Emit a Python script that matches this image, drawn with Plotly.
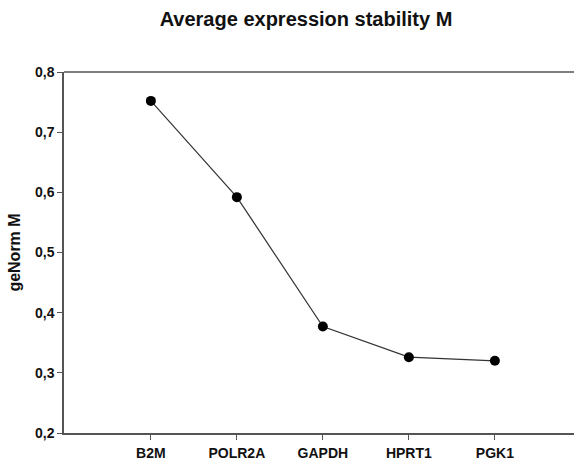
import plotly.graph_objects as go

genes = ["B2M", "POLR2A", "GAPDH", "HPRT1", "PGK1"]
m_values = [0.752, 0.592, 0.377, 0.326, 0.320]
y_ticks = [0.2, 0.3, 0.4, 0.5, 0.6, 0.7, 0.8]
y_ticklabels = ["0,2", "0,3", "0,4", "0,5", "0,6", "0,7", "0,8"]
title_text = "Average expression stability M"
y_title = "geNorm M"

FONT = "Liberation Sans, Arial, sans-serif"
W, H = 574, 463

fig = go.Figure()
fig.add_trace(go.Scatter(
    x=genes, y=m_values, mode="lines+markers",
    line=dict(color="#333333", width=1.2),
    marker=dict(color="black", size=10),
    showlegend=False,
))

fig.update_layout(
    width=W, height=H,
    margin=dict(l=64, r=0, t=72, b=30),
    plot_bgcolor="white", paper_bgcolor="white",
    font=dict(family=FONT, color="black"),
    title=dict(text="<b>" + title_text + "</b>", x=(306 - 64) / 510, xref="paper",
               xanchor="center", y=1 - 19 / H, yref="container", yanchor="middle",
               font=dict(size=20, family=FONT, color="#111111")),
)
fig.update_xaxes(
    type="category", range=[-1.01, 4.92],
    showline=True, linecolor="#555555", linewidth=1.5,
    ticks="outside", ticklen=5, tickcolor="#555555", tickwidth=1,
    showgrid=False, zeroline=False,
    tickfont=dict(size=14, family=FONT, color="#111111", weight="bold"),
    ticklabelstandoff=1,
)
fig.update_yaxes(
    range=[0.2, 0.8], tickvals=y_ticks, ticktext=y_ticklabels,
    showline=True, linecolor="#555555", linewidth=1.5,
    ticks="outside", ticklen=5, tickcolor="#555555", tickwidth=1,
    showgrid=False, zeroline=False,
    tickfont=dict(size=14, family=FONT, color="#111111", weight="bold"),
    title=dict(text="<b>" + y_title + "</b>", font=dict(size=16, family=FONT, color="#111111"), standoff=10),
)
# top frame line
fig.add_shape(type="line", xref="paper", yref="paper", x0=0, x1=1, y0=1, y1=1,
              line=dict(color="#555555", width=1.5))

fig.write_html("out.html", config={"displayModeBar": False},
               post_script="document.body.style.margin='0';document.body.style.overflow='hidden';")
